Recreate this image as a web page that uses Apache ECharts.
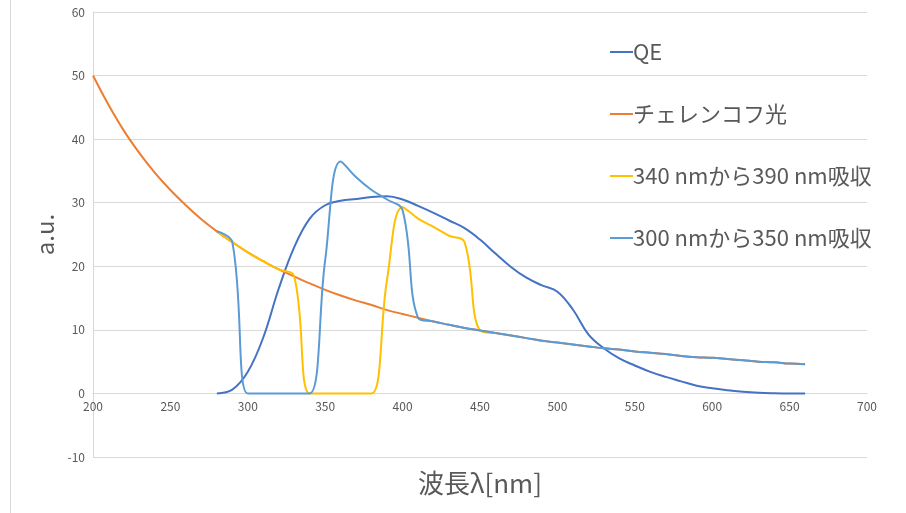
<!DOCTYPE html>
<html>
<head>
<meta charset="utf-8">
<script src="https://cdn.jsdelivr.net/npm/echarts@6/dist/echarts.min.js"></script>
<style>
  html, body { margin: 0; padding: 0; background: #fff; }
  #main { width: 906px; height: 513px; }
</style>
</head>
<body>
<div id="main"></div>
<script>
// 波長 [nm]
var cherenkovX = [200, 210, 220, 230, 240, 250, 260, 270, 280, 290, 300, 310, 320, 330, 340, 350,
    360, 370, 380, 390, 400, 410, 420, 430, 440, 450, 460, 470, 480, 490, 500, 510, 520, 530,
    540, 550, 560, 570, 580, 590, 600, 610, 620, 630, 640, 650, 660];
var cherenkovY = [50.0, 45.4, 41.3, 37.8, 34.7, 32.0, 29.6, 27.4, 25.5, 23.8, 22.2, 20.8, 19.5, 18.4, 17.3, 16.3,
    15.4, 14.6, 13.9, 13.1, 12.5, 11.9, 11.3, 10.8, 10.3, 9.9, 9.5, 9.1, 8.7, 8.3, 8.0, 7.7, 7.4, 7.1,
    6.9, 6.6, 6.4, 6.2, 5.9, 5.7, 5.6, 5.4, 5.2, 5.0, 4.9, 4.7, 4.6];

var qeX = [280, 290, 300, 310, 320, 330, 340, 350, 360, 370, 380, 390, 400, 410, 420, 430, 440, 450,
    460, 470, 480, 490, 500, 510, 520, 530, 540, 550, 560, 570, 580, 590, 600, 610, 620, 630, 640, 650, 660];
var qeY = [0, 0.6, 3.4, 8.8, 16.5, 23.0, 27.5, 29.6, 30.3, 30.6, 30.9, 31.0, 30.5, 29.5, 28.4, 27.2, 26.0, 24.2,
    22.0, 19.9, 18.2, 17.0, 16.0, 13.2, 9.3, 7.1, 5.5, 4.4, 3.4, 2.6, 1.9, 1.2, 0.8, 0.5, 0.25, 0.1, 0.03, 0, 0];

var abs340X = [280, 290, 300, 310, 320, 330, 340, 350, 360, 370, 380, 390, 400, 410, 420, 430, 440, 450, 460];
var abs340Y = [25.5, 23.8, 22.2, 20.8, 19.5, 18.4, 0, 0, 0, 0, 0, 18.0, 29.3, 27.5, 26.2, 24.8, 23.8, 9.9, 9.5];

var abs300X = [280, 290, 300, 310, 320, 330, 340, 350, 360, 370, 380, 390, 400, 410, 420, 430, 440, 450,
    460, 470, 480, 490, 500, 510, 520, 530, 540, 550, 560, 570, 580, 590, 600, 610, 620, 630, 640, 650, 660];
var abs300Y = [25.5, 23.8, 0, 0, 0, 0, 0, 21.0, 36.5, 34.0, 32.0, 30.5, 28.8, 11.9, 11.3, 10.8, 10.3, 9.9,
    9.5, 9.1, 8.7, 8.3, 8.0, 7.7, 7.4, 7.1, 6.9, 6.6, 6.4, 6.2, 5.9, 5.7, 5.6, 5.4, 5.2, 5.0, 4.9, 4.7, 4.6];

var seriesNames = ['QE', 'チェレンコフ光', '340 nmから390 nm吸収', '300 nmから350 nm吸収'];
var seriesColors = ['#4472C4', '#ED7D31', '#FFC000', '#5B9BD5'];

function pairs(xs, ys) {
    var out = [];
    for (var i = 0; i < xs.length; i++) {
        out.push([xs[i], ys[i]]);
    }
    return out;
}

var font = '"Noto Sans CJK JP", "Noto Sans", sans-serif';
var gridColor = '#d9d9d9';
var textColor = '#595959';

// x軸を y=0 の位置まで上げる (plot高さ 445px, -10..60)
var gridTop = 12, gridBottom = 56, chartH = 513;
var zeroOffset = (chartH - gridTop - gridBottom) * 10 / 70;

var allData = [
    pairs(qeX, qeY),
    pairs(cherenkovX, cherenkovY),
    pairs(abs340X, abs340Y),
    pairs(abs300X, abs300Y)
];

var series = [];
for (var k = 0; k < seriesNames.length; k++) {
    series.push({
        name: seriesNames[k],
        type: 'line',
        data: allData[k],
        smooth: 0.4,
        symbol: 'none',
        lineStyle: { color: seriesColors[k], width: 2 },
        itemStyle: { color: seriesColors[k] }
    });
}

var myChart = echarts.init(document.getElementById('main'));
var option = {
    animation: false,
    textStyle: { fontFamily: font },
    grid: { left: 93, right: 39, top: gridTop, bottom: gridBottom, containLabel: false, outerBoundsMode: 'none' },
    legend: {
        orient: 'vertical',
        left: 605,
        top: 36,
        itemGap: 40,
        itemWidth: 23,
        itemHeight: 2,
        icon: 'rect',
        data: seriesNames,
        textStyle: { fontSize: 22, color: textColor, fontFamily: font, padding: [0, 0, 0, -5] }
    },
    graphic: [{
        type: 'line',
        shape: { x1: 10.5, y1: 0, x2: 10.5, y2: 513 },
        style: { stroke: gridColor, lineWidth: 1 }
    }],
    xAxis: {
        type: 'value',
        min: 200,
        max: 700,
        interval: 50,
        offset: -zeroOffset,
        name: '波長λ[nm]',
        nameLocation: 'middle',
        nameGap: 77,
        nameTextStyle: { fontSize: 26, color: textColor },
        axisLine: { onZero: false, lineStyle: { color: gridColor, width: 1 } },
        axisTick: { show: false },
        axisLabel: { fontSize: 12, color: textColor, margin: 7 },
        splitLine: { show: false }
    },
    yAxis: {
        type: 'value',
        min: -10,
        max: 60,
        interval: 10,
        name: 'a.u.',
        nameLocation: 'middle',
        nameRotate: 90,
        nameGap: 28,
        nameTextStyle: { fontSize: 24, color: textColor },
        axisLine: { show: true, onZero: false, lineStyle: { color: gridColor, width: 1 } },
        axisTick: { show: false },
        axisLabel: { fontSize: 12, color: textColor, margin: 8 },
        splitLine: { lineStyle: { color: gridColor, width: 1 } }
    },
    series: series
};
myChart.setOption(option);
</script>
</body>
</html>
